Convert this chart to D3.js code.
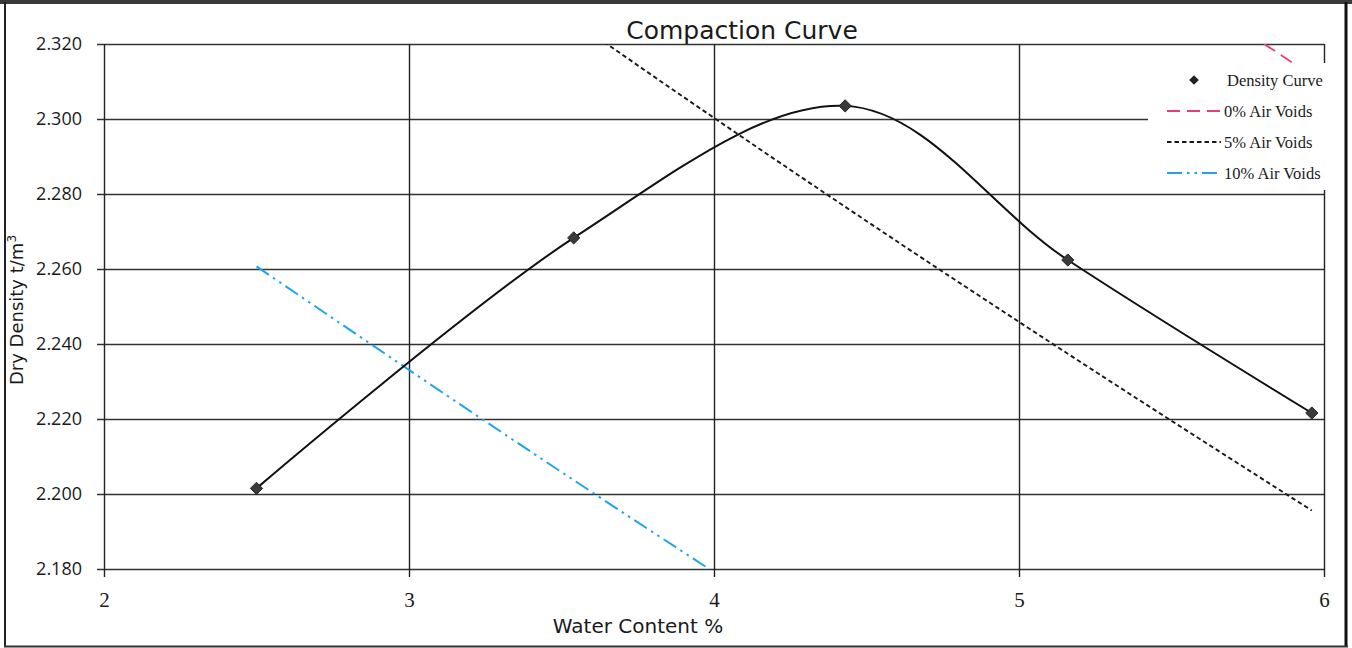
<!DOCTYPE html>
<html>
<head>
<meta charset="utf-8">
<script src="https://cdn.jsdelivr.net/npm/d3@7"></script>
<style>
  html, body { margin: 0; padding: 0; background: #fff; }
  svg { display: block; }
</style>
</head>
<body>
<svg id="chart"></svg>
<script>
// Density curve (test results)
const waterContent = [2.50, 3.54, 4.43, 5.16, 5.96];
const dryDensity = [2.2015, 2.2683, 2.3035, 2.2624, 2.2216];

// air voids lines, read at the same water contents
const airVoids0 = [2.5126, 2.4486, 2.3964, 2.3552, 2.3116];
const airVoids5 = [2.3870, 2.3262, 2.2766, 2.2374, 2.1956];
const airVoids10 = [2.2607, 2.2037, 2.1567, 2.1197, 2.0804];

const xTicks = [2, 3, 4, 5, 6];
const yTicks = [2.18, 2.20, 2.22, 2.24, 2.26, 2.28, 2.30, 2.32];

const seriesNames = ["Density Curve", "0% Air Voids", "5% Air Voids", "10% Air Voids"];

const width = 1352, height = 648;
const margin = { top: 44, right: 28, bottom: 79, left: 104 };
const plotW = width - margin.left - margin.right;
const plotH = height - margin.top - margin.bottom;

const sansWide = "'DejaVu Sans', sans-serif";

const svg = d3.select("#chart")
  .attr("width", width)
  .attr("height", height);

// outer frame (scanned page look)
svg.append("rect")
  .attr("x", 0).attr("y", 0)
  .attr("width", width).attr("height", 4)
  .attr("fill", "#3a3a3a");
svg.append("line")
  .attr("x1", 5).attr("y1", 2).attr("x2", 5).attr("y2", 647)
  .attr("stroke", "#222").attr("stroke-width", 2);
svg.append("line")
  .attr("x1", 1346).attr("y1", 2).attr("x2", 1346).attr("y2", 647)
  .attr("stroke", "#111").attr("stroke-width", 3);
svg.append("line")
  .attr("x1", 4).attr("y1", 646.5).attr("x2", 1348).attr("y2", 646.5)
  .attr("stroke", "#333").attr("stroke-width", 2);

const x = d3.scaleLinear().domain([2, 6]).range([0, plotW]);
const y = d3.scaleLinear().domain([2.18, 2.32]).range([plotH, 0]);

const g = svg.append("g")
  .attr("transform", `translate(${margin.left},${margin.top})`);

svg.append("defs").append("clipPath")
  .attr("id", "plotClip")
  .append("rect")
  .attr("x", 0).attr("y", 0)
  .attr("width", plotW).attr("height", plotH);

// horizontal gridlines + y axis ticks
const yAxis = d3.axisLeft(y)
  .tickValues(yTicks)
  .tickFormat(d3.format(".3f"))
  .tickSize(-plotW - 7);
g.append("g")
  .attr("transform", "translate(-7,0)")
  .call(yAxis)
  .call(a => a.select(".domain").remove())
  .call(a => a.selectAll("line").attr("stroke", "#333").attr("stroke-width", 1.3).attr("x1", 7 + plotW).attr("x2", 0))
  .call(a => a.selectAll("text")
    .attr("x", -15)
    .style("font-family", "'Open Sans', sans-serif")
    .style("font-size", "18px")
    .style("fill", "#1a1a1a"));

// vertical gridlines + x axis ticks
const xAxis = d3.axisBottom(x)
  .tickValues(xTicks)
  .tickFormat(d3.format("d"))
  .tickSize(-plotH - 8);
g.append("g")
  .attr("transform", `translate(0,${plotH + 8})`)
  .call(xAxis)
  .call(a => a.select(".domain").remove())
  .call(a => a.selectAll("line").attr("stroke", "#222").attr("stroke-width", 1.4))
  .call(a => a.selectAll("text")
    .attr("y", 15)
    .style("font-family", "'Liberation Serif', serif")
    .style("font-size", "21px")
    .style("fill", "#1a1a1a"));

const line = d3.line()
  .x(d => x(d[0]))
  .y(d => y(d[1]));

const series = g.append("g").attr("clip-path", "url(#plotClip)");

const voidLines = [
  { values: airVoids0, color: "#e83a7c", dash: "13,7", width: 1.8 },
  { values: airVoids5, color: "#1a1a1a", dash: "4.5,3", width: 1.9 },
  { values: airVoids10, color: "#1ea4ec", dash: "15,5,2.5,5,2.5,5", width: 2 }
];

voidLines.forEach(s => {
  series.append("path")
    .datum(waterContent.map((w, i) => [w, s.values[i]]))
    .attr("fill", "none")
    .attr("stroke", s.color)
    .attr("stroke-width", s.width)
    .attr("stroke-dasharray", s.dash)
    .attr("d", line.curve(d3.curveMonotoneX));
});

const densityData = waterContent.map((w, i) => [w, dryDensity[i]]);

g.append("path")
  .datum(densityData)
  .attr("fill", "none")
  .attr("stroke", "#111")
  .attr("stroke-width", 2)
  .attr("d", line.curve(d3.curveCardinal.tension(0)));

const diamond = d3.symbol().type(d3.symbolDiamond2).size(95);

g.selectAll(".pt")
  .data(densityData)
  .join("path")
    .attr("class", "pt")
    .attr("transform", d => `translate(${x(d[0])},${y(d[1])})`)
    .attr("d", diamond)
    .attr("fill", "#3a3a3a")
    .attr("stroke", "#222")
    .attr("stroke-width", 1);

// legend
const legend = svg.append("g")
  .attr("transform", "translate(1148,63)");

legend.append("rect")
  .attr("x", 0).attr("y", 0)
  .attr("width", 184).attr("height", 127)
  .attr("fill", "#fff");

const legendKeys = [
  { type: "marker" },
  voidLines[0], voidLines[1], voidLines[2]
];

legendKeys.forEach((k, i) => {
  const row = legend.append("g")
    .attr("transform", `translate(0,${17 + i * 31})`);
  if (k.type === "marker") {
    row.append("path")
      .attr("transform", "translate(46,0)")
      .attr("d", d3.symbol().type(d3.symbolDiamond2).size(60))
      .attr("fill", "#222");
  } else {
    row.append("line")
      .attr("x1", 19).attr("x2", 73)
      .attr("y1", 0).attr("y2", 0)
      .attr("stroke", k.color)
      .attr("stroke-width", k.width)
      .attr("stroke-dasharray", k.dash);
  }
  row.append("text")
    .attr("x", i === 0 ? 79 : 76)
    .attr("dy", "0.35em")
    .style("font-family", "'Liberation Serif', serif")
    .style("font-size", "16.5px")
    .style("fill", "#1a1a1a")
    .text(seriesNames[i]);
});

// title and axis titles
svg.append("text")
  .attr("x", 742).attr("y", 39)
  .attr("text-anchor", "middle")
  .style("font-family", sansWide)
  .style("font-size", "25px")
  .style("fill", "#1a1a1a")
  .text("Compaction Curve");

svg.append("text")
  .attr("x", 638).attr("y", 633)
  .attr("text-anchor", "middle")
  .style("font-family", sansWide)
  .style("font-size", "20px")
  .style("fill", "#1a1a1a")
  .text("Water Content %");

const yTitle = svg.append("text")
  .attr("transform", "translate(23,310) rotate(-90)")
  .attr("text-anchor", "middle")
  .style("font-family", sansWide)
  .style("font-size", "18px")
  .style("fill", "#1a1a1a");
yTitle.append("tspan").text("Dry Density t/m");
yTitle.append("tspan").attr("dy", -7).style("font-size", "12px").text("3");
</script>
</body>
</html>
